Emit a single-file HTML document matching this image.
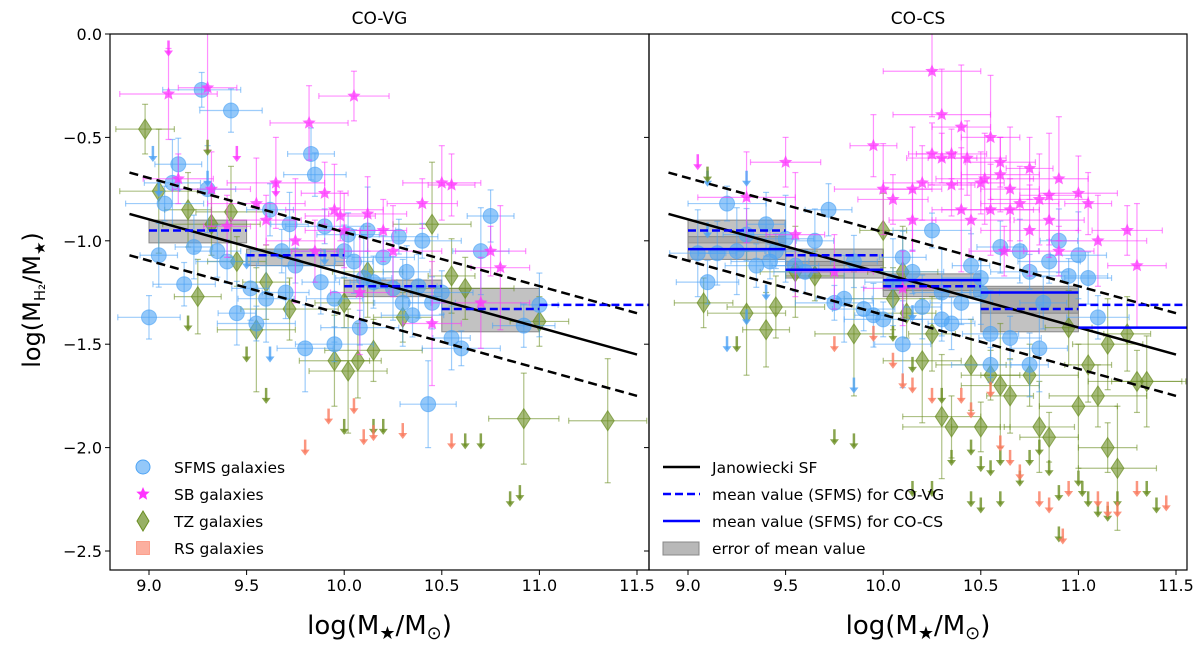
<!DOCTYPE html>
<html><head><meta charset="utf-8"><style>
html,body{margin:0;padding:0;background:#fff;}
svg{display:block;font-family:"DejaVu Sans","Liberation Sans",sans-serif;}
</style></head><body>
<svg id="chart" width="1200" height="647" viewBox="0 0 1200 647" xmlns="http://www.w3.org/2000/svg"></svg>
<script>
// ---- data ----
const yTicks = [0.0, -0.5, -1.0, -1.5, -2.0, -2.5];
const xTicks = [9.0, 9.5, 10.0, 10.5, 11.0, 11.5];
const binEdges = [9.0, 9.5, 10.0, 10.5, 11.0, 11.5];
const meanVG = [-0.95, -1.07, -1.22, -1.33, -1.31];
const meanVGlo = [-1.01, -1.12, -1.27, -1.44, null];
const meanVGhi = [-0.90, -1.04, -1.19, -1.23, null];
const meanCS = [-1.04, -1.14, -1.19, -1.25, -1.42];
const meanCSlo = [-1.09, -1.18, -1.24, -1.35, null];
const meanCShi = [-0.98, -1.10, -1.16, -1.22, null];
const janX = [8.9, 11.5];
const janY = [-0.87, -1.55];
const janScatter = 0.2;

const sfmsL = [[9.0,-1.37],[9.05,-1.07],[9.08,-0.82],[9.12,-0.72],[9.15,-0.63],[9.18,-1.21],[9.23,-1.03],[9.27,-0.27],[9.3,-0.75],[9.35,-1.05],[9.42,-0.37],[9.45,-1.35],[9.55,-1.4],[9.6,-1.28],[9.62,-0.85],[9.68,-1.05],[9.72,-0.92],[9.75,-1.12],[9.8,-1.52],[9.83,-0.58],[9.85,-0.68],[9.88,-1.2],[9.9,-0.93],[9.95,-1.28],[10.0,-1.05],[10.02,-0.97],[10.05,-1.1],[10.08,-1.42],[10.1,-1.18],[10.15,-1.2],[10.2,-1.08],[10.25,-1.23],[10.28,-0.98],[10.3,-1.3],[10.32,-1.15],[10.35,-1.36],[10.38,-1.22],[10.4,-1.0],[10.43,-1.79],[10.45,-1.3],[10.5,-1.25],[10.55,-1.47],[10.6,-1.52],[10.7,-1.05],[10.75,-0.88],[10.92,-1.41],[11.0,-1.31],[9.95,-1.5],[10.12,-0.95],[9.7,-1.25],[9.4,-1.1],[9.52,-1.23]];
const sbL = [[9.1,-0.29],[9.15,-0.7],[9.3,-0.26],[9.32,-0.75],[9.4,-0.93],[9.55,-0.82],[9.6,-0.9],[9.75,-1.0],[9.82,-0.43],[9.9,-0.77],[9.95,-0.85],[10.05,-0.3],[10.08,-1.25],[10.12,-0.87],[10.2,-0.95],[10.25,-1.05],[10.4,-0.82],[10.45,-1.4],[10.5,-0.72],[10.55,-0.73],[10.7,-1.3],[10.75,-1.05],[10.8,-1.13],[10.0,-0.95],[9.85,-1.05],[9.65,-0.72],[9.98,-0.88]];
const tzL = [[8.98,-0.46],[9.05,-0.76],[9.2,-0.85],[9.32,-0.92],[9.42,-0.86],[9.45,-1.1],[9.55,-1.43],[9.6,-1.2],[9.72,-1.33],[9.95,-1.58],[10.0,-1.3],[10.02,-1.63],[10.07,-1.58],[10.15,-1.53],[10.12,-1.15],[10.3,-1.37],[10.45,-0.92],[10.55,-1.17],[10.62,-1.23],[10.92,-1.86],[11.0,-1.39],[11.35,-1.87],[9.25,-1.27]];
const sfmsArrL = [[9.02,-0.58],[9.05,-0.75],[9.3,-0.7],[9.9,-1.08],[9.5,-1.1],[9.62,-1.55]];
const sbArrL = [[9.1,-0.07],[9.45,-0.58],[9.65,-0.75]];
const tzArrL = [[9.3,-0.55],[9.2,-1.4],[9.6,-1.75],[10.0,-1.9],[10.2,-1.9],[10.62,-1.97],[10.7,-1.97],[10.85,-2.25],[10.9,-2.22],[9.5,-1.55],[10.15,-1.9]];
const rsArrL = [[9.8,-2.0],[9.92,-1.85],[10.05,-1.8],[10.1,-1.95],[10.15,-1.93],[10.3,-1.92],[10.55,-1.97]];

const sfmsR = [[9.1,-1.2],[9.15,-1.06],[9.2,-0.82],[9.25,-1.05],[9.3,-0.97],[9.35,-1.12],[9.4,-0.92],[9.45,-1.05],[9.5,-0.99],[9.55,-1.12],[9.6,-1.15],[9.65,-1.0],[9.75,-1.3],[9.8,-1.28],[9.85,-1.1],[9.9,-1.33],[9.95,-1.36],[10.0,-1.38],[10.05,-1.2],[10.1,-1.08],[10.15,-1.15],[10.2,-1.32],[10.25,-0.95],[10.3,-1.25],[10.35,-1.4],[10.4,-1.3],[10.45,-1.12],[10.5,-1.18],[10.55,-1.45],[10.6,-1.03],[10.65,-1.47],[10.7,-1.05],[10.75,-1.15],[10.8,-1.52],[10.82,-1.3],[10.85,-1.1],[10.9,-1.0],[10.95,-1.17],[11.0,-1.07],[11.05,-1.18],[11.1,-1.37],[10.75,-1.6],[10.55,-1.6],[10.1,-1.5],[9.72,-0.85],[10.3,-1.38],[10.5,-1.25],[9.42,-1.1],[9.05,-1.06]];
const sbR = [[9.3,-0.79],[9.5,-0.62],[9.55,-0.97],[9.75,-1.15],[9.95,-0.54],[10.0,-0.75],[10.05,-0.8],[10.15,-0.75],[10.2,-0.72],[10.25,-0.58],[10.3,-0.39],[10.35,-0.58],[10.4,-0.45],[10.43,-0.6],[10.5,-0.72],[10.55,-0.85],[10.6,-0.62],[10.65,-0.75],[10.7,-0.82],[10.75,-0.65],[10.8,-0.8],[10.85,-0.9],[10.9,-0.7],[11.0,-0.77],[11.05,-0.82],[11.1,-1.0],[11.25,-0.95],[11.3,-1.12],[10.45,-0.9],[10.35,-0.73],[10.25,-0.18],[10.3,-0.6],[10.55,-0.5],[10.6,-0.68],[10.65,-0.85],[10.75,-0.95],[10.9,-1.05],[10.4,-0.85],[10.1,-1.23],[10.15,-0.9],[10.52,-0.7],[10.62,-1.05],[10.85,-0.78]];
const tzR = [[9.08,-1.3],[9.3,-1.35],[9.4,-1.43],[9.45,-1.32],[9.55,-1.15],[9.65,-1.17],[9.85,-1.45],[10.0,-0.95],[10.05,-1.28],[10.1,-1.15],[10.12,-1.35],[10.2,-1.58],[10.25,-1.45],[10.35,-1.9],[10.45,-1.6],[10.55,-1.65],[10.6,-1.7],[10.65,-1.75],[10.75,-1.65],[10.8,-1.9],[10.85,-1.95],[11.0,-1.8],[11.05,-1.6],[11.1,-1.75],[11.15,-1.5],[11.15,-2.0],[11.2,-2.1],[11.25,-1.45],[11.3,-1.68],[11.35,-1.68],[10.5,-1.9],[10.3,-1.85],[10.95,-1.42]];
const sfmsArrR = [[9.1,-0.7],[9.3,-0.7],[9.1,-0.95],[9.3,-1.37],[9.2,-1.5],[9.4,-1.25],[9.85,-1.7],[10.15,-1.35]];
const sbArrR = [[9.05,-0.62]];
const tzArrR = [[9.1,-0.68],[9.25,-1.5],[9.75,-1.95],[9.85,-1.97],[10.05,-1.45],[10.15,-1.6],[10.3,-1.75],[10.35,-2.05],[10.45,-2.0],[10.5,-2.08],[10.55,-2.1],[10.6,-2.05],[10.7,-2.15],[10.75,-2.05],[10.8,-2.0],[10.85,-2.1],[10.9,-2.22],[11.0,-2.15],[11.02,-2.2],[11.05,-2.25],[11.1,-2.3],[11.15,-2.32],[11.2,-2.25],[11.35,-2.2],[11.4,-2.28],[10.9,-2.42],[10.45,-2.25],[10.5,-2.28],[10.15,-2.2],[10.25,-2.2],[10.6,-2.25]];
const rsArrR = [[9.75,-1.5],[10.05,-1.58],[10.1,-1.68],[10.15,-1.7],[10.25,-1.75],[9.95,-1.45],[10.4,-1.75],[10.45,-1.82],[10.55,-1.72],[10.6,-1.98],[10.65,-2.05],[10.7,-2.12],[10.8,-2.25],[10.85,-2.28],[10.95,-2.2],[11.1,-2.25],[11.2,-2.3],[11.3,-2.2],[11.45,-2.27],[10.92,-2.43],[11.15,-2.3]];
const errX = [0.15, 0.2, 0.12, 0.25, 0.18];
const errY = [0.15, 0.22, 0.12, 0.3, 0.18];

// ---- drawing ----
const NS = "http://www.w3.org/2000/svg";
const svg = document.getElementById("chart");
function mk(tag, attrs, parent) {
  const e = document.createElementNS(NS, tag);
  for (const k in attrs) e.setAttribute(k, attrs[k]);
  (parent || svg).appendChild(e);
  return e;
}
const TOP = 34, BOT = 570;
function yS(v) { return TOP + (-v) * 206.8; }
const panels = [
  {left:110, right:649, x0:149, name:"co-vg", title:"CO-VG", sfms:sfmsL, sb:sbL, tz:tzL, sfA:sfmsArrL, sbA:sbArrL, tzA:tzArrL, rsA:rsArrL},
  {left:649, right:1187, x0:688, name:"co-cs", title:"CO-CS", sfms:sfmsR, sb:sbR, tz:tzR, sfA:sfmsArrR, sbA:sbArrR, tzA:tzArrR, rsA:rsArrR}
];
const C_SF = "#4da3f5", C_SB = "#ff33ff", C_TZ = "#6b8e23", C_RS = "#fa7a5f";

function starPts(cx, cy, r) {
  let p = [];
  for (let i = 0; i < 10; i++) {
    const a = -Math.PI/2 + i*Math.PI/5, rr = i%2 ? r*0.45 : r;
    p.push((cx+rr*Math.cos(a)).toFixed(1)+","+(cy+rr*Math.sin(a)).toFixed(1));
  }
  return p.join(" ");
}
function errbar(g, cx, cy, dx, dy, col) {
  const a = {stroke:col, "stroke-width":1.2, "stroke-opacity":0.55};
  mk("line", Object.assign({x1:cx-dx,y1:cy,x2:cx+dx,y2:cy}, a), g);
  mk("line", Object.assign({x1:cx,y1:cy-dy,x2:cx,y2:cy+dy}, a), g);
  mk("line", Object.assign({x1:cx-dx,y1:cy-3,x2:cx-dx,y2:cy+3}, a), g);
  mk("line", Object.assign({x1:cx+dx,y1:cy-3,x2:cx+dx,y2:cy+3}, a), g);
  mk("line", Object.assign({x1:cx-3,y1:cy-dy,x2:cx+3,y2:cy-dy}, a), g);
  mk("line", Object.assign({x1:cx-3,y1:cy+dy,x2:cx+3,y2:cy+dy}, a), g);
}
function arrow(g, cx, cy, col) {
  mk("line", {x1:cx, y1:cy-8, x2:cx, y2:cy+5, stroke:col, "stroke-width":2.5, "stroke-opacity":0.8}, g);
  mk("polygon", {points:`${cx-4.5},${cy+2} ${cx+4.5},${cy+2} ${cx},${cy+8}`, fill:col, "fill-opacity":0.8}, g);
}

panels.forEach((P, pi) => {
  const xS = v => P.x0 + (v - 9) * 195.2;
  const g = mk("g", {"clip-path":`url(#clip${pi})`});
  
  
  const cp = mk("clipPath", {id:"clip"+pi});
  mk("rect", {x:P.left, y:TOP, width:P.right-P.left, height:BOT-TOP}, cp);

  // gray error boxes
  const lo = pi===0 ? meanVGlo : meanCSlo, hi = pi===0 ? meanVGhi : meanCShi;
  const boxes = [[meanVGlo, meanVGhi]];
  if (pi === 1) boxes.push([meanCSlo, meanCShi]);
  boxes.forEach((b, bi) => {
    for (let i = 0; i < 5; i++) {
      if (b[0][i] === null) continue;
      const r = mk("rect", {x:xS(binEdges[i]), y:yS(b[1][i]), width:xS(binEdges[i+1])-xS(binEdges[i]), height:yS(b[0][i])-yS(b[1][i]), fill:"#9a9a9a", "fill-opacity":0.6, stroke:"#888", "stroke-width":1}, g);
      
      
    }
  });

  const tzg = mk("g", {}, g);
  // TZ
  P.tz.forEach((d, i) => {
    const cx = xS(d[0]), cy = yS(d[1]);
    errbar(tzg, cx, cy, errX[i%5]*195, errY[(i+2)%5]*206.8, C_TZ);
    const m = mk("polygon", {points:`${cx},${cy-10} ${cx+6.5},${cy} ${cx},${cy+10} ${cx-6.5},${cy}`, fill:C_TZ, "fill-opacity":0.6, stroke:C_TZ, "stroke-opacity":0.7}, tzg);
    
    
  });
  // SFMS
  P.sfms.forEach((d, i) => {
    const cx = xS(d[0]), cy = yS(d[1]);
    errbar(g, cx, cy, errX[(i+1)%5]*195*0.8, errY[i%5]*206.8*0.7, C_SF);
    const m = mk("circle", {cx:cx, cy:cy, r:7.5, fill:C_SF, "fill-opacity":0.6, stroke:C_SF, "stroke-opacity":0.6}, g);
    
    
  });
  // SB
  P.sb.forEach((d, i) => {
    const cx = xS(d[0]), cy = yS(d[1]);
    errbar(g, cx, cy, errX[(i+3)%5]*195, errY[(i+1)%5]*206.8, C_SB);
    const m = mk("polygon", {points:starPts(cx, cy, 7), fill:C_SB, "fill-opacity":0.75}, g);
    
    
  });
  // arrows (upper limits)
  [[P.sfA, C_SF, 'sfms'], [P.sbA, C_SB, 'sb'], [P.tzA, C_TZ, 'tz'], [P.rsA, C_RS, 'rs']].forEach(s => {
    s[0].forEach(d => {
      const ag = mk("g", {}, g);
      
      
      arrow(ag, xS(d[0]), yS(d[1]), s[1]);
    });
  });

  // Janowiecki relation
  const jl = mk("line", {x1:xS(janX[0]), y1:yS(janY[0]), x2:xS(janX[1]), y2:yS(janY[1]), stroke:"#000", "stroke-width":2.5}, g);
  
  
  [janScatter, -janScatter].forEach(o => {
    const dl = mk("line", {x1:xS(janX[0]), y1:yS(janY[0]+o), x2:xS(janX[1]), y2:yS(janY[1]+o), stroke:"#000", "stroke-width":2.5, "stroke-dasharray":"9,5"}, g);
    
    
  });
  // mean lines
  for (let i = 0; i < 5; i++) {
    const xe = i === 4 ? P.right : xS(binEdges[i+1]);
    const ml = mk("line", {x1:xS(binEdges[i]), y1:yS(meanVG[i]), x2:xe, y2:yS(meanVG[i]), stroke:"#0000ff", "stroke-width":2.5, "stroke-dasharray":"8,4"}, g);
    
    
    if (pi === 1) {
      const cl = mk("line", {x1:xS(binEdges[i]), y1:yS(meanCS[i]), x2:xe, y2:yS(meanCS[i]), stroke:"#0000ff", "stroke-width":2.5}, g);
      
      
    }
  }

  // frame
  const fr = mk("rect", {x:P.left, y:TOP, width:P.right-P.left, height:BOT-TOP, fill:"none", stroke:"#000", "stroke-width":1.2});
  
  
  // title
  const t = mk("text", {x:(P.left+P.right)/2, y:24, "text-anchor":"middle", "font-size":17});
  t.textContent = P.title;
  
  
  // x ticks
  xTicks.forEach(v => {
    mk("line", {x1:xS(v), y1:BOT, x2:xS(v), y2:BOT+5, stroke:"#000", "stroke-width":1});
    const tl = mk("text", {x:xS(v), y:BOT+21, "text-anchor":"middle", "font-size":16});
    tl.textContent = v.toFixed(1);
    
    
  });
  // y ticks
  yTicks.forEach(v => {
    mk("line", {x1:P.left-5, y1:yS(v), x2:P.left, y2:yS(v), stroke:"#000", "stroke-width":1});
    if (pi === 0) {
      const tl = mk("text", {x:P.left-8, y:yS(v)+6, "text-anchor":"end", "font-size":16});
      tl.textContent = (v === 0 ? "0.0" : "\u2212" + Math.abs(v).toFixed(1));
      
      
    }
  });
  // x-axis title
  const xt = mk("text", {x:(P.left+P.right)/2, y:634, "text-anchor":"middle", "font-size":26});
  xt.innerHTML = 'log(M<tspan font-size="18" dy="5">\u2605</tspan><tspan dy="-5">/M</tspan><tspan font-size="18" dy="5">\u2299</tspan><tspan dy="-5">)</tspan>';
  
  
});

// y-axis title
const yt = mk("text", {x:0, y:0, "text-anchor":"middle", "font-size":24, transform:"translate(40,300) rotate(-90)"});
yt.innerHTML = 'log(M<tspan font-size="15" dy="5">H\u2082</tspan><tspan dy="-5">/M</tspan><tspan font-size="15" dy="5">\u2605</tspan><tspan dy="-5">)</tspan>';



// left legend
const lg = mk("g", {});


const legL = [["SFMS galaxies","c"],["SB galaxies","s"],["TZ galaxies","d"],["RS galaxies","r"]];
legL.forEach((e, i) => {
  const y = 467 + i*27, x = 143;
  if (e[1]==="c") mk("circle", {cx:x, cy:y, r:7, fill:C_SF, "fill-opacity":0.6, stroke:C_SF}, lg);
  if (e[1]==="s") mk("polygon", {points:starPts(x, y, 7), fill:C_SB}, lg);
  if (e[1]==="d") mk("polygon", {points:`${x},${y-10} ${x+6},${y} ${x},${y+10} ${x-6},${y}`, fill:C_TZ, "fill-opacity":0.7, stroke:C_TZ}, lg);
  if (e[1]==="r") mk("rect", {x:x-6.5, y:y-6.5, width:13, height:13, fill:C_RS, "fill-opacity":0.6, stroke:C_RS, "stroke-opacity":0.6}, lg);
  const t = mk("text", {x:174, y:y+6, "font-size":15.5}, lg);
  t.textContent = e[0];
  
  
});
// right legend
const rg = mk("g", {});


const legR = ["Janowiecki SF","mean value (SFMS) for CO-VG","mean value (SFMS) for CO-CS","error of mean value"];
legR.forEach((txt, i) => {
  const y = 467 + i*27;
  if (i===0) mk("line", {x1:663, y1:y, x2:700, y2:y, stroke:"#000", "stroke-width":2.5}, rg);
  if (i===1) mk("line", {x1:663, y1:y, x2:700, y2:y, stroke:"#0000ff", "stroke-width":2.5, "stroke-dasharray":"8,4"}, rg);
  if (i===2) mk("line", {x1:663, y1:y, x2:700, y2:y, stroke:"#0000ff", "stroke-width":2.5}, rg);
  if (i===3) mk("rect", {x:663, y:y-6, width:36, height:13, fill:"#9a9a9a", "fill-opacity":0.7, stroke:"#888"}, rg);
  const t = mk("text", {x:712, y:y+6, "font-size":15.5}, rg);
  t.textContent = txt;
  
  
});
</script>
</body></html>
